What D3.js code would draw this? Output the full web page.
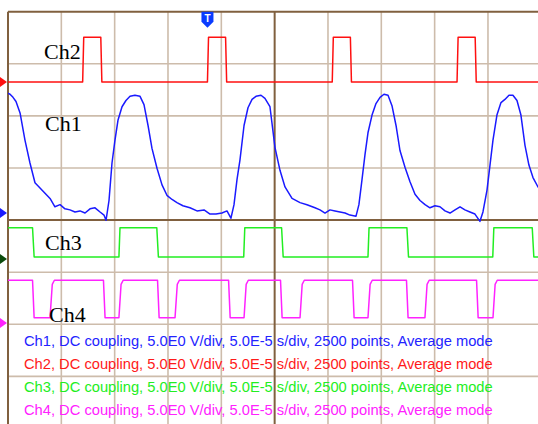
<!DOCTYPE html>
<html>
<head>
<meta charset="utf-8">
<script src="https://cdn.jsdelivr.net/npm/d3@7"></script>
<style>
  html,body{margin:0;padding:0;background:#fff;}
  svg{display:block;}
</style>
</head>
<body>
<svg id="scope" width="538" height="424"></svg>
<script>
// scope capture -- 4 channels, 50 us/div, 5 V/div

// time in us, volts relative to each channel's ground marker
const ch1T=[0,1.9,4.7,7.5,11.3,15.9,20.6,25.3,30,34.7,39.4,44,48.8,53.4,58.1,62.8,67.5,72.2,76.9,81.6,86.3,90,91.9,
  94.7,97.5,100.3,103.1,106.9,110.6,114.4,119,123.8,127.5,131.3,135,139.7,144.4,149,153.8,158.4,164,170.6,177.2,183.8,189.4,195,200.6,205.3,209,
  211.9,214.7,217.5,221.3,225,228.8,232.5,237.2,240.9,245.6,250.3,255,259.7,266.3,273.8,280.3,287.8,292.5,297.2,301.9,306.6,311.3,316,320.6,326.3,
  329,331.9,334.7,337.5,341.3,345,348.8,352.5,356.3,360,363.8,367.5,372.2,376.9,381.6,386.3,391,395.6,400.3,405,409.7,414.4,419.1,423.8,428.4,433.1,437.8,442.5,
  445.3,449.1,451.9,454.7,458.4,462.2,465.9,469.7,473.4,477.2,480.9,484.7,488.4,492.2,496.9,500];
const ch1V=[11.5,11.4,11.1,10.7,9.6,7.0,4.8,2.9,2.4,1.9,1.4,0.6,0.8,0.4,0.3,0.1,0.2,0,0.4,0.5,0.1,-0.2,-0.7,
  1.2,4.8,7.0,8.9,10.2,10.8,11.2,11.3,11.2,10.4,8.4,6.2,4.3,2.7,1.7,1.3,1.0,0.7,0.5,0.2,0.3,-0.1,-0.1,0,0.2,-0.5,
  0.8,3.2,5.1,8.4,10.1,10.9,11.2,11.3,11.0,10.2,6.3,4.1,2.5,1.4,1.0,0.8,0.5,0.3,0,0.3,0.2,0.1,0,-0.2,-0.3,
  0.8,3.2,5.6,7.7,9.4,10.5,11.1,11.4,11.3,10.3,8.4,6.0,4.4,3.0,1.8,1.2,0.8,0.5,0.7,0.6,0.2,0,0.3,0.6,0.3,0.1,-0.1,-0.8,
  0.1,2.2,4.6,7.0,9.4,10.6,10.9,11.3,11.3,10.8,9.4,6.5,4.6,3.4,2.5,2.2];

const ch2T=[0,70,71,87,88,187,188,204,205,304,305,321,322,421,422,438,439,500];
const ch2V=[0,0,4.3,4.3,0,0,4.3,4.3,0,0,4.3,4.3,0,0,4.3,4.3,0,0];

const ch3T=[0,23,24.5,104,105,139.5,141,221,222,256.5,258,337.5,338.5,374,375.5,454.5,455.5,491.5,493,500];
const ch3V=[3.0,3.0,0.2,0.2,3.0,3.0,0.2,0.2,3.0,3.0,0.2,0.2,3.0,3.0,0.2,0.2,3.0,3.0,0.2,0.2];

const ch4T=[0,23,24.5,39.4,41.5,43.5, 89.5,91,104,106,108, 140.2,141.7,156.6,158.7,160.7, 206.8,208.3,221.3,223.3,225.3,
  255.5,257,273.8,275.8,277.8, 323,324.5,337.5,339.5,341.5, 373.6,375.1,390.9,392.9,394.9, 439.3,440.8,454.7,456.7,458.7, 500];
const ch4V=[4.1,4.1,0.5,0.5,3.7,4.1, 4.1,0.5,0.5,3.7,4.1, 4.1,0.5,0.5,3.7,4.1, 4.1,0.5,0.5,3.7,4.1,
  4.1,0.5,0.5,3.7,4.1, 4.1,0.5,0.5,3.7,4.1, 4.1,0.5,0.5,3.7,4.1, 4.1,0.5,0.5,3.7,4.1, 4.1];

const CHANNELS=[
  { name:"Ch1", t:ch1T, v:ch1V, offset:0.136,  color:"#1a1aff", mark:"#1a1aff", lx:45, ly:131 },
  { name:"Ch2", t:ch2T, v:ch2V, offset:2.651,  color:"#ff1010", mark:"#ff1010", lx:44, ly:59  },
  { name:"Ch3", t:ch3T, v:ch3V, offset:-0.747, color:"#22ee22", mark:"#0b4a0b", lx:45, ly:250 },
  { name:"Ch4", t:ch4T, v:ch4V, offset:-1.975, color:"#ff22ff", mark:"#ff22ff", lx:49, ly:322 },
];
const LEGEND_TXT=", DC coupling, 5.0E0 V/div, 5.0E-5 s/div, 2500 points, Average mode";
const LEGEND_COL=["#2323ff","#ff1a1a","#22ee22","#ff22ff"];
const VOLTS_PER_DIV=5;
const TRIG_T=187;

const svg=d3.select("#scope");
const x=d3.scaleLinear().domain([0,500]).range([8,541.3]);
const y=d3.scaleLinear().domain([-4,4]).range([428.5,11.7]);

// grid
const grid=svg.append("g");
grid.selectAll("line.v").data(d3.range(1,10).filter(i=>i!==5)).join("line")
  .attr("x1",i=>x(i*50)).attr("x2",i=>x(i*50)).attr("y1",y(4)).attr("y2",y(-4))
  .attr("stroke","#cdbcab").attr("stroke-width",1.6);
grid.selectAll("line.h").data(d3.range(-3,4).filter(i=>i!==0)).join("line")
  .attr("x1",x(0)).attr("x2",x(500)).attr("y1",i=>y(i)).attr("y2",i=>y(i))
  .attr("stroke","#cdbcab").attr("stroke-width",1.6);

// center axes + border
const dark="#80603f";
grid.append("line").attr("x1",x(250)).attr("x2",x(250)).attr("y1",y(4)).attr("y2",y(-4))
  .attr("stroke",dark).attr("stroke-width",2);
grid.append("line").attr("x1",x(0)).attr("x2",x(500)).attr("y1",y(0)).attr("y2",y(0))
  .attr("stroke",dark).attr("stroke-width",2);
grid.append("line").attr("x1",x(0)).attr("x2",x(500)).attr("y1",y(4)).attr("y2",y(4))
  .attr("stroke",dark).attr("stroke-width",2);
grid.append("line").attr("x1",x(0)).attr("x2",x(0)).attr("y1",y(4)).attr("y2",y(-4))
  .attr("stroke",dark).attr("stroke-width",2);

svg.append("clipPath").attr("id","plot").append("rect")
  .attr("x",x(0)).attr("y",y(4)).attr("width",x(500)-x(0)).attr("height",y(-4)-y(4));

// traces
const traces=svg.append("g").attr("clip-path","url(#plot)");
CHANNELS.forEach(ch=>{
  const pts=ch.t.map((t,i)=>[t,ch.v[i]]);
  const line=d3.line().x(d=>x(d[0])).y(d=>y(ch.offset+d[1]/VOLTS_PER_DIV));
  traces.append("path").datum(pts).attr("d",line)
    .attr("fill","none").attr("stroke",ch.color).attr("stroke-width",1.5)
    .attr("stroke-linejoin","round");
});

// channel names
CHANNELS.forEach(ch=>{
  svg.append("text").attr("x",ch.lx).attr("y",ch.ly)
    .style("font-family","'Liberation Serif', 'DejaVu Serif', serif").style("font-size","22px")
    .attr("fill","#000").text(ch.name);
});

// ground markers at the left edge
CHANNELS.forEach(ch=>{
  const yy=y(ch.offset);
  svg.append("path").attr("d",`M0,${yy-5} L7,${yy} L0,${yy+5} Z`).attr("fill",ch.mark);
});

// trigger marker
const tx=x(TRIG_T);
svg.append("path").attr("d",`M${tx-6},${y(4)} L${tx+6},${y(4)} L${tx+6},${y(4)+10} L${tx},${y(4)+16} L${tx-6},${y(4)+10} Z`)
  .attr("fill","#0a3cff");
svg.append("text").attr("x",tx).attr("y",y(4)+10).attr("text-anchor","middle")
  .style("font-family","'Liberation Sans', Arial, sans-serif").style("font-size","10px").style("font-weight","bold")
  .attr("fill","#fff").text("T");

// legend lines
const legend=svg.append("g");
CHANNELS.forEach((ch,i)=>{
  const t=legend.append("text").attr("x",24).attr("y",345.5+i*23)
    .style("font-family","'Liberation Sans', Arial, sans-serif").style("font-size","14px")
    .attr("fill",LEGEND_COL[i]).text(ch.name+LEGEND_TXT);
  const w=t.node().getComputedTextLength();
  t.style("font-size",(14*469/w).toFixed(2)+"px");
});
</script>
</body>
</html>
